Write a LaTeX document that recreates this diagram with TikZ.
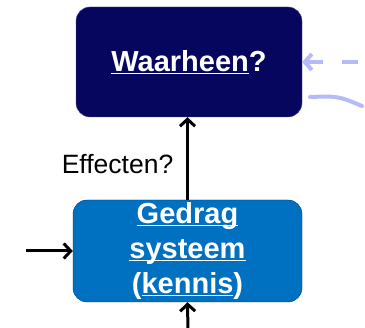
\documentclass[tikz,border=0pt]{standalone}
\usepackage{fontspec}
\setmainfont{Liberation Sans}
\usetikzlibrary{arrows.meta}
\definecolor{navy}{HTML}{06065E}
\definecolor{gedragblauw}{HTML}{0070C0}
\definecolor{lila}{HTML}{B6BAF8}
\newcommand{\onderlijn}[1]{\setbox0\hbox{#1}\rlap{\rule[-3pt]{\wd0}{1.2pt}}\box0}

\begin{document}
\begin{tikzpicture}[x=1pt,y=-1pt,every node/.style={align=center, rounded corners=14pt, inner sep=2pt, text=white, font=\bfseries\fontsize{29}{35}\selectfont}, pijl/.style={line width=3pt, -{Straight Barb[length=7pt,width=15pt]}}, licht/.style={lila, line width=4pt}]
\useasboundingbox (0,0) rectangle (365,328);
\node[fill=navy, draw=navy!70!white, minimum width=226pt, minimum height=110pt] (waarheen) at (189,62) {\onderlijn{Waarheen}?};
\node[fill=gedragblauw, draw=navy!60!gedragblauw, minimum width=229pt, minimum height=102pt] (gedrag) at (187.5,251) {\onderlijn{Gedrag}\\\onderlijn{systeem}\\(\onderlijn{kennis})};
\node[text=black, font=\fontsize{26.5}{30}\selectfont] (effecten) at (117.5,164) {Effecten?};
\coordinate (links) at (26,251);
\coordinate (onder) at (188,332);
\draw[pijl] (gedrag.north) -- (gedrag.north |- waarheen.south);
\draw[pijl] (links) -- (gedrag.west);
\draw[pijl] (onder) -- (gedrag.south);
% lichte pijlen rechts
\coordinate (rechts) at (368,62);
\coordinate (boogbegin) at (310,97);
\coordinate (boogeind) at (362,106);
\draw[licht, dash pattern=on 16pt off 19pt, {Straight Barb[length=7pt,width=16pt]}-] (waarheen.east) -- (rechts);
\draw[licht, line cap=round] (boogbegin) .. controls (338,96) .. (boogeind);
\end{tikzpicture}
\end{document}
